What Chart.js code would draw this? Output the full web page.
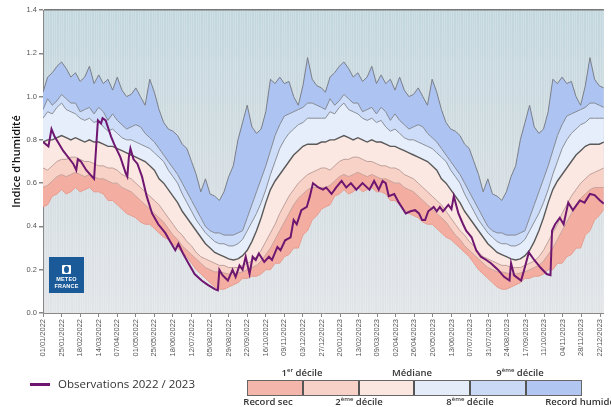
<!DOCTYPE html>
<html>
<head>
<meta charset="utf-8">
<script src="https://cdn.jsdelivr.net/npm/chart.js@4/dist/chart.umd.min.js"></script>
<style>
  html, body { margin: 0; padding: 0; background: #fff; overflow: hidden; }
  #wrap { position: relative; width: 611px; height: 407px; overflow: hidden; font-family: "Open Sans", sans-serif; }
  #chart { position: absolute; left: 0; top: 0; }
  .logo { position: absolute; left: 49px; top: 257px; width: 35px; height: 36px; background: #1b5a98; color: #fff; text-align: center; }
  .logo .ico { position: absolute; left: 13px; top: 8px; width: 9px; height: 9px; background: #fff; border-radius: 1px; }
  .logo .ico i { position: absolute; left: 2px; top: 1px; width: 5px; height: 7px; border-radius: 50%; background: #1b5a98; }
  .logo .t { position: absolute; left: 0; width: 35px; font: 700 5.5px "Liberation Sans", sans-serif; letter-spacing: 0.2px; }
  .obsline { position: absolute; left: 30px; top: 383px; width: 20px; height: 3px; background: #6e1670; }
  .obstxt { position: absolute; left: 58px; top: 376px; font-size: 11.5px; color: #333; }
  .boxes { position: absolute; left: 247px; top: 380px; width: 333px; height: 14px; border: 1px solid #666; display: flex; }
  .boxes div { flex: 1; border-left: 2px solid #555; }
  .boxes div:first-child { border-left: none; }
  .lab { position: absolute; font-size: 9.5px; font-weight: 600; color: #333; white-space: nowrap; transform: translateX(-50%); }
  .lab sup { font-size: 6px; vertical-align: 4px; }
</style>
</head>
<body>
<div id="wrap">
  <canvas id="chart" width="611" height="407"></canvas>
  <div class="logo"><div class="ico"><i></i></div><div class="t" style="top:19px">METEO</div><div class="t" style="top:26px">FRANCE</div></div>
  <div class="obsline"></div>
  <div class="obstxt">Observations 2022 / 2023</div>
  <div class="boxes">
    <div style="background:#f4b6aa"></div>
    <div style="background:#f7d1c7"></div>
    <div style="background:#fbe7e0"></div>
    <div style="background:#e4ecfa"></div>
    <div style="background:#cadaf6"></div>
    <div style="background:#b2c6f2"></div>
  </div>
  <div class="lab" style="left:302px;top:366px">1<sup>er</sup> décile</div>
  <div class="lab" style="left:412px;top:366px">Médiane</div>
  <div class="lab" style="left:520px;top:366px">9<sup>ème</sup> décile</div>
  <div class="lab" style="left:268px;top:395px">Record sec</div>
  <div class="lab" style="left:359px;top:395px">2<sup>ème</sup> décile</div>
  <div class="lab" style="left:470px;top:395px">8<sup>ème</sup> décile</div>
  <div class="lab" style="left:580px;top:395px">Record humide</div>
</div>
<script>
// x tick labels, one every 24 days from 01/01/2022
const tickLabels = ['01/01/2022','25/01/2022','18/02/2022','14/03/2022','07/04/2022','01/05/2022','25/05/2022',
  '18/06/2022','12/07/2022','05/08/2022','29/08/2022','22/09/2022','16/10/2022','09/11/2022','03/12/2022',
  '27/12/2022','20/01/2023','13/02/2023','09/03/2023','02/04/2023','26/04/2023','20/05/2023','13/06/2023',
  '07/07/2023','31/07/2023','24/08/2023','17/09/2023','11/10/2023','04/11/2023','28/11/2023','22/12/2023'];

// climatology, day of year (same reference curves drawn for 2022 and 2023)
const climDays = [0,6,12,18,24,30,36,42,48,54,60,66,72,78,84,90,96,102,108,114,120,126,132,138,144,150,156,
  162,168,174,180,186,192,198,204,210,216,222,228,234,240,246,252,258,264,270,276,282,288,294,300,306,312,318,
  324,330,336,342,348,354,360];

const recordHumide = [1.02,1.09,1.11,1.14,1.16,1.13,1.09,1.11,1.07,1.09,1.14,1.06,1.10,1.06,1.08,1.03,1.09,1.03,
  1.00,1.01,1.04,1.00,0.96,1.08,1.02,0.94,0.88,0.85,0.84,0.82,0.78,0.76,0.70,0.64,0.56,0.62,0.55,0.54,0.52,0.56,
  0.63,0.68,0.80,0.88,0.96,0.86,0.83,0.85,0.93,1.08,1.06,1.09,1.06,1.07,1.00,0.96,1.05,1.18,1.08,1.05,1.04];
const decile9 = [0.94,0.99,0.96,0.98,1.01,0.99,0.97,0.97,0.93,0.94,0.95,0.92,0.95,0.93,0.89,0.92,0.89,0.87,0.85,
  0.86,0.87,0.86,0.83,0.81,0.79,0.76,0.73,0.70,0.67,0.64,0.60,0.56,0.52,0.48,0.44,0.40,0.38,0.37,0.37,0.36,0.36,
  0.36,0.37,0.38,0.44,0.50,0.56,0.62,0.68,0.75,0.82,0.87,0.91,0.92,0.93,0.94,0.95,0.97,0.97,0.96,0.95];
const decile8 = [0.90,0.93,0.92,0.95,0.97,0.94,0.93,0.92,0.90,0.89,0.90,0.88,0.89,0.86,0.84,0.85,0.83,0.81,0.80,
  0.80,0.79,0.78,0.77,0.76,0.74,0.72,0.70,0.66,0.63,0.60,0.55,0.51,0.47,0.43,0.40,0.37,0.35,0.33,0.32,0.32,0.31,
  0.31,0.32,0.34,0.38,0.42,0.46,0.51,0.57,0.64,0.70,0.76,0.80,0.83,0.85,0.87,0.88,0.90,0.90,0.90,0.90];
const mediane = [0.79,0.80,0.80,0.81,0.82,0.81,0.80,0.81,0.80,0.79,0.80,0.79,0.79,0.78,0.77,0.77,0.76,0.75,0.74,
  0.73,0.72,0.71,0.70,0.68,0.66,0.62,0.60,0.57,0.54,0.51,0.47,0.44,0.41,0.38,0.35,0.32,0.30,0.28,0.27,0.26,0.25,
  0.245,0.25,0.265,0.29,0.33,0.38,0.44,0.51,0.57,0.61,0.64,0.67,0.70,0.73,0.75,0.77,0.78,0.78,0.78,0.79];
const decile2 = [0.67,0.66,0.68,0.70,0.71,0.71,0.72,0.72,0.71,0.70,0.70,0.69,0.68,0.68,0.67,0.67,0.66,0.64,0.63,
  0.62,0.60,0.58,0.56,0.54,0.52,0.50,0.47,0.44,0.41,0.38,0.36,0.33,0.31,0.28,0.26,0.25,0.24,0.23,0.22,0.22,0.21,
  0.21,0.21,0.22,0.23,0.24,0.26,0.29,0.33,0.37,0.41,0.46,0.50,0.54,0.57,0.60,0.62,0.64,0.65,0.66,0.67];
const decile1 = [0.58,0.59,0.61,0.63,0.64,0.63,0.64,0.65,0.64,0.63,0.64,0.63,0.62,0.62,0.61,0.60,0.60,0.58,0.57,
  0.56,0.54,0.52,0.50,0.48,0.46,0.44,0.42,0.39,0.36,0.34,0.31,0.29,0.27,0.25,0.23,0.21,0.20,0.19,0.19,0.185,0.18,
  0.18,0.185,0.19,0.20,0.21,0.22,0.24,0.27,0.30,0.34,0.38,0.42,0.46,0.50,0.53,0.55,0.57,0.58,0.58,0.58];
const recordSec = [0.49,0.50,0.54,0.55,0.57,0.55,0.56,0.58,0.56,0.57,0.58,0.56,0.56,0.55,0.52,0.52,0.50,0.48,0.46,
  0.45,0.44,0.42,0.41,0.41,0.39,0.37,0.35,0.34,0.32,0.30,0.28,0.26,0.23,0.20,0.18,0.16,0.14,0.12,0.11,0.11,0.12,
  0.13,0.14,0.16,0.16,0.17,0.17,0.18,0.20,0.20,0.23,0.23,0.26,0.27,0.30,0.30,0.36,0.38,0.43,0.45,0.48];

// observations 2022 / 2023, day counted from 01/01/2022
const obsDays = [0,7,11,15,26,39,43,45,49,56,66,71,75,77,81,88,92,100,107,109,111,113,117,122,128,134,141,149,
  158,166,171,175,181,188,196,205,213,222,226,228,232,239,245,249,254,258,262,267,271,275,279,286,292,296,303,
  307,313,320,324,328,334,341,345,349,356,362,366,373,379,386,392,398,405,413,422,428,434,439,443,447,454,460,
  469,475,481,486,490,494,498,505,509,513,517,524,528,531,537,543,547,554,560,566,573,579,588,596,603,605,609,
  618,622,628,635,643,651,656,658,662,668,673,679,685,694,700,707,713,720,725];
const obsValues = [0.79,0.77,0.85,0.815,0.75,0.69,0.66,0.71,0.70,0.66,0.62,0.89,0.875,0.90,0.89,0.815,0.78,0.72,
  0.645,0.63,0.72,0.76,0.71,0.69,0.63,0.54,0.46,0.41,0.37,0.32,0.29,0.32,0.275,0.23,0.18,0.15,0.13,0.11,0.105,
  0.20,0.175,0.15,0.20,0.167,0.22,0.20,0.26,0.18,0.26,0.245,0.275,0.236,0.26,0.245,0.305,0.29,0.336,0.35,0.43,
  0.41,0.475,0.49,0.54,0.60,0.58,0.57,0.58,0.55,0.58,0.61,0.58,0.60,0.57,0.60,0.57,0.61,0.57,0.61,0.60,0.54,0.55,
  0.51,0.46,0.47,0.475,0.46,0.43,0.43,0.47,0.49,0.47,0.49,0.47,0.50,0.48,0.54,0.46,0.41,0.38,0.35,0.29,0.26,0.245,
  0.23,0.20,0.167,0.15,0.23,0.174,0.15,0.20,0.28,0.245,0.21,0.18,0.175,0.38,0.41,0.44,0.41,0.51,0.475,0.52,0.51,
  0.55,0.545,0.52,0.505];

const yearOffsets = [0, 365];
const twoYears = vals => yearOffsets.flatMap(off => climDays.map((d, i) => ({ x: d + off, y: vals[i] })));

const band = (label, vals, fill, bg, line, w) => ({
  label, data: twoYears(vals), fill, backgroundColor: bg, borderColor: line, borderWidth: w,
  pointRadius: 0, tension: 0
});

const bgPlugin = {
  id: 'plotBg',
  beforeDraw(chart) {
    const { ctx, chartArea: a } = chart;
    const g = ctx.createLinearGradient(0, a.top, 0, a.bottom);
    g.addColorStop(0, '#c2d7de');
    g.addColorStop(0.5, '#d2dce1');
    g.addColorStop(1, '#e1e4e7');
    ctx.save();
    ctx.fillStyle = g;
    ctx.fillRect(a.left, a.top, a.right - a.left, a.bottom - a.top);
    ctx.restore();
  }
};

new Chart(document.getElementById('chart'), {
  type: 'line',
  data: {
    datasets: [
      { label: 'Observations 2022 / 2023', data: obsDays.map((d, i) => ({ x: d, y: obsValues[i] })),
        borderColor: '#6e1670', borderWidth: 2, pointRadius: 0, tension: 0, fill: false },
      band('Record sec', recordSec, false, 'transparent', '#e79c8e', 1),
      band('1er décile', decile1, 1, '#f3aea1', '#c9a39b', 1),
      band('2ème décile', decile2, 2, '#f8d1c7', '#bfa19b', 1),
      band('Médiane', mediane, 3, '#fce8e2', '#5a5a5a', 1.4),
      band('8ème décile', decile8, 4, '#e6eefc', '#8a8f98', 1),
      band('9ème décile', decile9, 5, '#cddcf8', '#858a94', 1),
      band('Record humide', recordHumide, 6, '#adc3f2', '#7b7f87', 1)
    ]
  },
  options: {
    responsive: false,
    animation: false,
    devicePixelRatio: 1,
    layout: { padding: { top: 10, left: 0, right: 0, bottom: 0 } },
    plugins: { legend: { display: false }, tooltip: { enabled: false } },
    scales: {
      x: {
        type: 'linear', min: 0, max: 725, position: 'bottom',
        ticks: {
          stepSize: 24, includeBounds: false, autoSkip: false, minRotation: 90, maxRotation: 90, padding: 2,
          color: '#555', font: { family: 'Liberation Sans', size: 7.5 },
          callback: v => tickLabels[Math.round(v / 24)] || ''
        },
        grid: { drawOnChartArea: false, tickLength: 4, tickColor: '#888' },
        border: { display: true, color: '#888' },
        afterFit: s => { s.height = 94; }
      },
      xg: {
        type: 'linear', min: 0, max: 725, position: 'bottom',
        ticks: { display: false, stepSize: 3, includeBounds: false },
        grid: { color: 'rgba(255,255,255,0.2)', drawTicks: false, lineWidth: 1 },
        border: { display: false },
        afterFit: s => { s.height = 0; }
      },
      y: {
        min: 0, max: 1.4,
        ticks: { stepSize: 0.2, padding: 2, color: '#555', font: { family: 'Liberation Sans', size: 7.5 },
          callback: v => v.toFixed(1) },
        grid: {
          drawOnChartArea: true, tickLength: 4, tickColor: '#888',
          color: c => (c.tick && Math.abs(c.tick.value - 1.4) < 1e-6) ? '#777' : 'rgba(0,0,0,0)',
          lineWidth: 1.5
        },
        border: { display: true, color: '#888' },
        title: { display: true, text: "Indice d'humidité", color: '#111',
          font: { family: 'Open Sans', size: 11, weight: '600' }, padding: { top: 10, bottom: 0 } },
        afterFit: s => { s.width = 43; }
      }
    }
  },
  plugins: [bgPlugin]
});
</script>
</body>
</html>
